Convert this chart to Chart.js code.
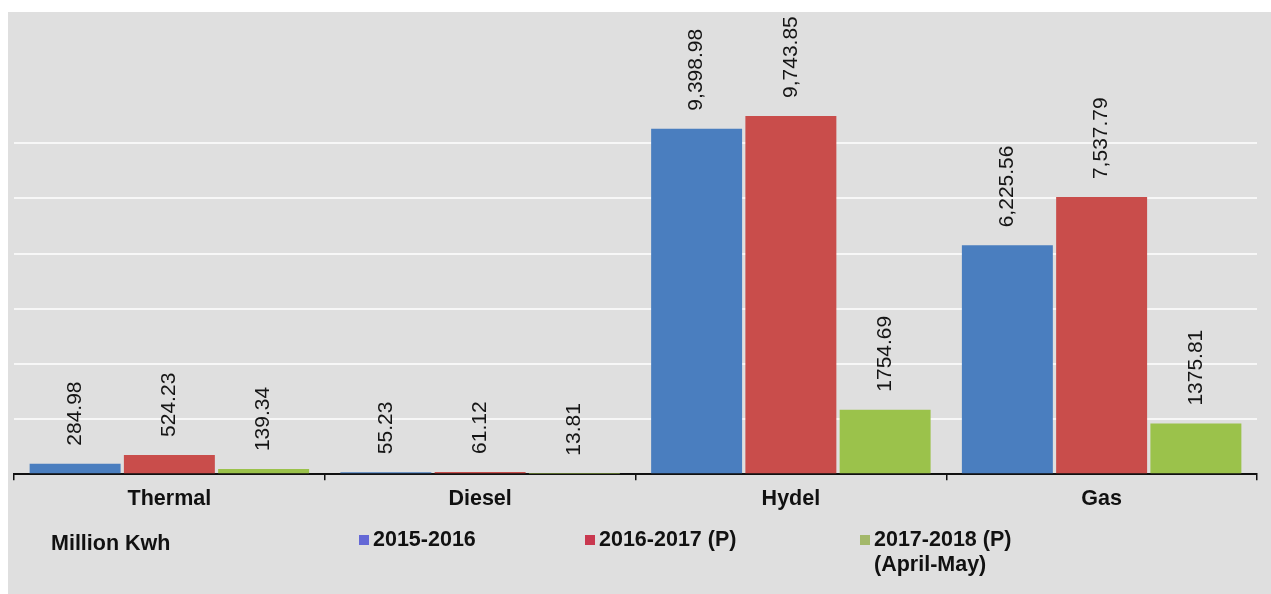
<!DOCTYPE html>
<html>
<head>
<meta charset="utf-8">
<script src="https://cdn.jsdelivr.net/npm/chart.js@4"></script>
<style>
    body { margin: 0; background: #ffffff; }
    #wrap { width: 1271px; height: 594px; }
</style>
</head>
<body>
<div id="wrap"><canvas id="chart" width="1271" height="594"></canvas></div>
<script>
const categories = ['Thermal', 'Diesel', 'Hydel', 'Gas'];
const seriesNames = [['2015-2016'], ['2016-2017 (P)'], ['2017-2018 (P)', '(April-May)']];
const values2015 = [284.98, 55.23, 9398.98, 6225.56];
const values2016 = [524.23, 61.12, 9743.85, 7537.79];
const values2017 = [139.34, 13.81, 1754.69, 1375.81];
const labels2015 = ['284.98', '55.23', '9,398.98', '6,225.56'];
const labels2016 = ['524.23', '61.12', '9,743.85', '7,537.79'];
const labels2017 = ['139.34', '13.81', '1754.69', '1375.81'];
const unitLabel = 'Million Kwh';

const colors = ['#4a7ebf', '#c94d4b', '#9bc24b'];
const legendColors = ['#6468d6', '#c9384f', '#a3b86a'];
const valueLabels = [labels2015, labels2016, labels2017];

Chart.defaults.font.family = '"Liberation Sans", Arial, sans-serif';
Chart.defaults.color = '#111';

// grey panel behind the chart
const panelBg = {
    id: 'panelBg',
    beforeDraw(chart) {
        const c = chart.ctx;
        c.save();
        c.fillStyle = '#dfdfdf';
        c.fillRect(8, 12, chart.width - 8, chart.height - 12);
        c.restore();
    }
};

// rotated value labels above each bar
const barValues = {
    id: 'barValues',
    afterDatasetsDraw(chart) {
        const c = chart.ctx;
        c.save();
        c.font = '21px "Liberation Sans", Arial, sans-serif';
        c.fillStyle = '#151515';
        c.textAlign = 'left';
        c.textBaseline = 'middle';
        chart.data.datasets.forEach((ds, i) => {
            chart.getDatasetMeta(i).data.forEach((bar, j) => {
                c.save();
                c.translate(bar.x, bar.y - 18);
                c.rotate(-Math.PI / 2);
                c.fillText(valueLabels[i][j], 0, 0);
                c.restore();
            });
        });
        c.restore();
    }
};

// bottom legend with unit text
const bottomLegend = {
    id: 'bottomLegend',
    afterDraw(chart) {
        const c = chart.ctx;
        const y = 540;
        const xs = [359, 585, 860];
        c.save();
        c.font = 'bold 21.5px "Liberation Sans", Arial, sans-serif';
        c.fillStyle = '#111';
        c.textBaseline = 'middle';
        c.fillText(unitLabel, 51, y + 4);
        chart.data.datasets.forEach((ds, i) => {
            c.fillStyle = legendColors[i];
            c.fillRect(xs[i], y - 5, 10, 10);
            c.fillStyle = '#111';
            seriesNames[i].forEach((line, k) => {
                c.fillText(line, xs[i] + 14, y + k * 25);
            });
        });
        c.restore();
    }
};

new Chart(document.getElementById('chart'), {
    type: 'bar',
    data: {
        labels: categories,
        datasets: [
            { label: seriesNames[0].join(' '), data: values2015, backgroundColor: colors[0] },
            { label: seriesNames[1].join(' '), data: values2016, backgroundColor: colors[1] },
            { label: seriesNames[2].join(' '), data: values2017, backgroundColor: colors[2] }
        ]
    },
    options: {
        responsive: false,
        animation: false,
        categoryPercentage: 0.91,
        barPercentage: 0.965,
        layout: { padding: { left: 14, right: 14, top: 33, bottom: 76 } },
        plugins: {
            legend: { display: false },
            tooltip: { enabled: false }
        },
        scales: {
            x: {
                grid: {
                    offset: true,
                    drawOnChartArea: false,
                    color: '#111',
                    tickLength: 6,
                    lineWidth: 1.5
                },
                border: { color: '#111', width: 2 },
                ticks: {
                    padding: 6,
                    font: { size: 21.5, weight: 'bold' },
                    color: '#111'
                }
            },
            y: {
                min: 0,
                max: 12000,
                ticks: { display: false, stepSize: 1500 },
                border: { display: false },
                grid: {
                    drawTicks: false,
                    lineWidth: 2,
                    color: ctx => (ctx.tick && ctx.tick.value > 0 && ctx.tick.value <= 9000) ? '#f7f7f7' : 'rgba(0,0,0,0)'
                }
            }
        }
    },
    plugins: [panelBg, barValues, bottomLegend]
});
</script>
</body>
</html>
